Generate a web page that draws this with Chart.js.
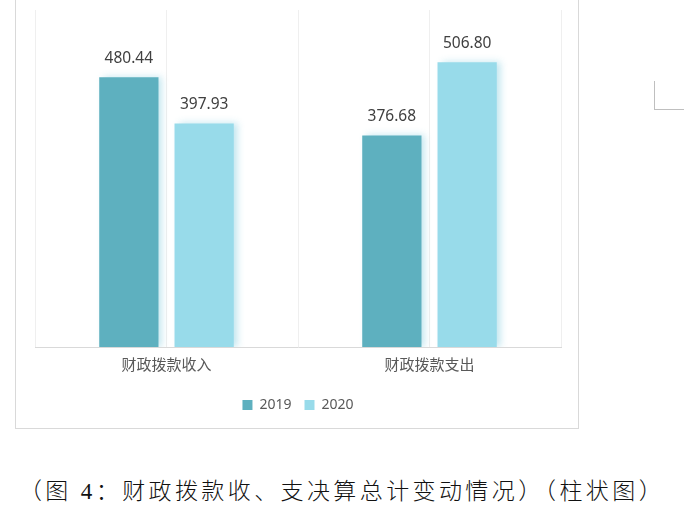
<!DOCTYPE html>
<html>
<head>
<meta charset="utf-8">
<script src="https://cdn.jsdelivr.net/npm/chart.js@4.4.1/dist/chart.umd.min.js"></script>
<style>
  html, body { margin: 0; padding: 0; background: #fff; width: 684px; height: 521px; overflow: hidden; }
  #box { position: absolute; left: 15px; top: -1px; width: 562px; height: 428px; border: 1px solid #d9d9d9; box-sizing: content-box; }
  #wrap { position: absolute; left: 0; top: 1px; width: 562px; height: 427px; }
  #corner { position: absolute; left: 654px; top: 81px; width: 31px; height: 28px; border-left: 1px solid #bfbfbf; border-bottom: 1px solid #bfbfbf; }
  #caption { position: absolute; left: 0; top: 477px; width: 684px; text-align: center; font-family: "Liberation Serif", "Noto Sans CJK SC", serif; font-size: 23px; font-weight: 300; letter-spacing: 3.4px; color: #111; line-height: 30px; white-space: nowrap; }
</style>
</head>
<body>
<div id="box"><div id="wrap"><canvas id="c"></canvas></div></div>
<div id="corner"></div>
<div id="caption">（图 4：财政拨款收、支决算总计变动情况）（柱状图）</div>
<script>
const categories = ["财政拨款收入", "财政拨款支出"];
const seriesNames = ["2019", "2020"];
const values2019 = [480.44, 376.68];
const values2020 = [397.93, 506.80];
const yMin = 0;
const yMax = 600;

const FONT = '"Noto Sans", "Noto Sans CJK SC", sans-serif';

const shadowPlugin = {
  id: 'barShadow',
  beforeDatasetsDraw(chart) {
    const ctx = chart.ctx;
    ctx.save();
    ctx.shadowColor = 'rgba(120, 200, 220, 0.45)';
    ctx.shadowBlur = 7;
    ctx.shadowOffsetX = 4;
    ctx.shadowOffsetY = 0;
  },
  afterDatasetsDraw(chart) {
    chart.ctx.restore();
  }
};

const labelPlugin = {
  id: 'valueLabels',
  afterDatasetsDraw(chart) {
    const ctx = chart.ctx;
    ctx.save();
    ctx.font = '15.5px ' + FONT;
    ctx.fillStyle = '#404040';
    ctx.textAlign = 'center';
    ctx.textBaseline = 'alphabetic';
    chart.data.datasets.forEach((ds, i) => {
      const meta = chart.getDatasetMeta(i);
      meta.data.forEach((bar, j) => {
        ctx.fillText(ds.data[j].toFixed(2), bar.x, bar.y - 14);
      });
    });
    ctx.restore();
  }
};

new Chart(document.getElementById('c'), {
  type: 'bar',
  data: {
    labels: categories,
    datasets: [
      { label: seriesNames[0], data: values2019, backgroundColor: '#5eb0bf', categoryPercentage: 0.5725, barPercentage: 0.787 },
      { label: seriesNames[1], data: values2020, backgroundColor: '#98dbea', categoryPercentage: 0.5725, barPercentage: 0.787 }
    ]
  },
  options: {
    responsive: true,
    maintainAspectRatio: false,
    animation: false,
    layout: { padding: { left: 19, right: 17, top: 9, bottom: 6 } },
    plugins: {
      legend: {
        position: 'bottom',
        labels: { boxWidth: 10, boxHeight: 10, padding: 13, color: '#595959', font: { family: FONT, size: 14 } }
      },
      tooltip: { enabled: false }
    },
    scales: {
      x: {
        offset: true,
        grid: { offset: true, color: '#efefef', drawTicks: false },
        border: { color: '#d9d9d9' },
        ticks: { color: '#595959', font: { family: FONT, size: 15 }, padding: 10 }
      },
      x2: {
        type: 'category',
        labels: categories,
        offset: true,
        position: 'bottom',
        display: true,
        grid: { offset: false, color: '#efefef', drawTicks: false },
        border: { display: false },
        ticks: { display: false }
      },
      y: {
        display: false,
        min: yMin,
        max: yMax
      }
    }
  },
  plugins: [shadowPlugin, labelPlugin]
});
</script>
</body>
</html>
